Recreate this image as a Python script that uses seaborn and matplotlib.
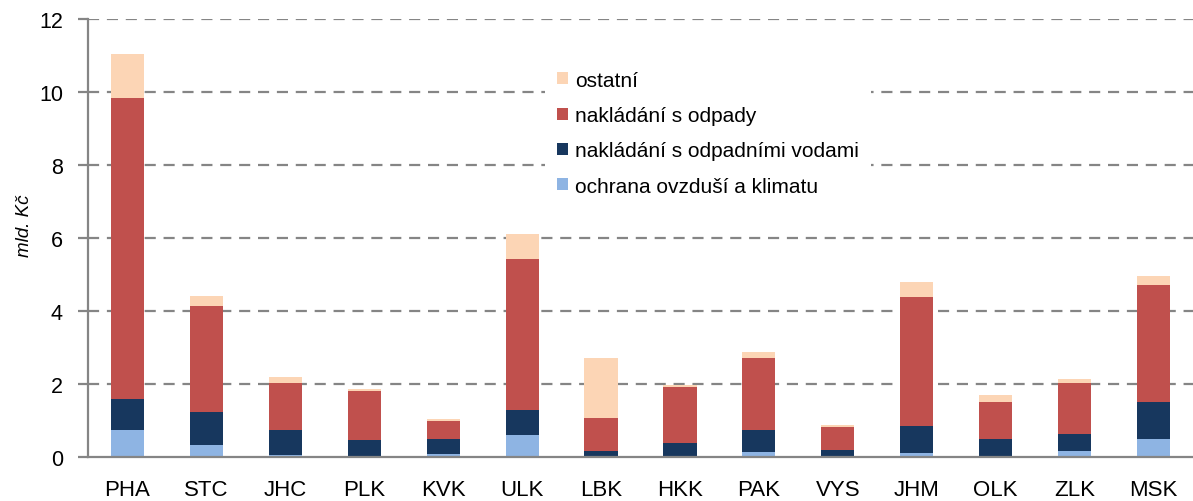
import numpy as np
import pandas as pd
import matplotlib
matplotlib.use('Agg')
import matplotlib.pyplot as plt
import seaborn as sns
from matplotlib.patches import Patch

# ── data (mld. Kč) ─────────────────────────────────────────────────────────
regions = ["PHA", "STC", "JHC", "PLK", "KVK", "ULK", "LBK",
           "HKK", "PAK", "VYS", "JHM", "OLK", "ZLK", "MSK"]
ovzdusi = [0.75, 0.34, 0.06, 0.04, 0.09, 0.61, 0.02, 0.02, 0.15, 0.02, 0.12, 0.04, 0.17, 0.50]
vody    = [0.85, 0.90, 0.69, 0.43, 0.41, 0.69, 0.15, 0.35, 0.60, 0.18, 0.74, 0.46, 0.47, 1.02]
odpady  = [8.24, 2.90, 1.29, 1.35, 0.50, 4.12, 0.91, 1.56, 1.96, 0.63, 3.52, 1.02, 1.40, 3.19]
ostatni = [1.20, 0.27, 0.16, 0.05, 0.05, 0.69, 1.64, 0.05, 0.17, 0.06, 0.41, 0.19, 0.11, 0.25]

series_names = ["ochrana ovzduší a klimatu", "nakládání s odpadními vodami",
                "nakládání s odpady", "ostatní"]
colors = ["#8EB4E3", "#17375E", "#C0504D", "#FCD5B5"]

df = pd.DataFrame({"region": regions,
                   series_names[0]: ovzdusi,
                   series_names[1]: vody,
                   series_names[2]: odpady,
                   series_names[3]: ostatni})
cum = df[series_names].cumsum(axis=1)

sns.set_style("white")
plt.rcParams['font.family'] = ['Liberation Sans', 'DejaVu Sans']
plt.rcParams['text.color'] = 'black'
plt.rcParams['axes.labelcolor'] = 'black'
plt.rcParams['xtick.color'] = 'black'
plt.rcParams['ytick.color'] = 'black'

fig = plt.figure(figsize=(11.93, 5.02), dpi=100)
ax = fig.add_axes([88 / 1193, 44 / 502, 1 - 88 / 1193, 438 / 502])

# stacked bars: draw cumulative totals from the top layer down
for name, col in zip(series_names[::-1], colors[::-1]):
    sns.barplot(x=df["region"], y=cum[name], color=col, width=0.42,
                saturation=1, linewidth=0, edgecolor='none', ax=ax, zorder=3)

grid_col = '#858585'
ax.set_ylim(0, 12)
ax.set_xlim(-0.5, 13.35)
ax.set_yticks(np.arange(0, 13, 2))
for yv in np.arange(2, 13, 2):
    ax.axhline(yv, color=grid_col, linestyle=(0, (5, 3.5)), linewidth=1.6, zorder=1)

for s in ['top', 'right']:
    ax.spines[s].set_visible(False)
for s in ['left', 'bottom']:
    ax.spines[s].set_color(grid_col)
    ax.spines[s].set_linewidth(1.6)
    ax.spines[s].set_zorder(4)

ax.set_xticks(np.arange(-0.5, 14, 1), minor=True)
ax.tick_params(axis='x', which='major', length=0, pad=16, labelsize=16)
ax.tick_params(axis='x', which='minor', length=5, width=1.6, color=grid_col, direction='out')
ax.tick_params(axis='y', length=7, width=1.6, color=grid_col, labelcolor='black',
               pad=11, labelsize=15.5, left=True)

ax.set_xlabel("")
ax.set_ylabel("mld. Kč", fontsize=13.5, fontstyle='italic')
ax.yaxis.set_label_coords(-0.05, 0.53)

handles = [Patch(facecolor=c, edgecolor='none') for c in colors[::-1]]
leg = ax.legend(handles, series_names[::-1], loc='upper left',
                bbox_to_anchor=(0.404, 0.934), frameon=True, fontsize=15,
                handlelength=0.5, handleheight=0.5, handletextpad=0.35,
                labelspacing=0.78, borderpad=0.6, fancybox=False)
leg.get_frame().set_facecolor('white')
leg.get_frame().set_edgecolor('none')
leg.get_frame().set_alpha(1)
leg.set_zorder(5)

plt.savefig("out.png", dpi=100, facecolor='white')
plt.close()
